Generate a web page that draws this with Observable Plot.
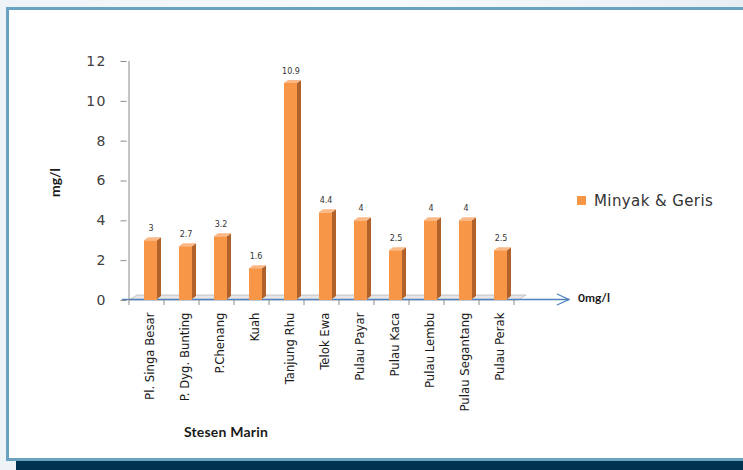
<!DOCTYPE html>
<html>
<head>
<meta charset="utf-8">
<script src="https://cdn.jsdelivr.net/npm/d3@7"></script>
<script src="https://cdn.jsdelivr.net/npm/@observablehq/plot@0.6"></script>
<style>
  html, body { margin: 0; padding: 0; }
  #wrap { position: relative; width: 743px; height: 470px; overflow: hidden;
    background: linear-gradient(90deg, #edf3f7 0%, #f7fafc 50%, #e8eff4 100%); }
  #panel { position: absolute; left: 6px; top: 7px; width: 760px; height: 454px; box-sizing: border-box;
    border: 3px solid #6aa2c2; background: #fff; }
  #band { position: absolute; left: 16px; top: 461px; width: 727px; height: 9px; background: #003350; }
  #chart { position: absolute; left: 0; top: 0; }
  .lbl { position: absolute; font-family: Lato, "Open Sans", sans-serif; font-weight: bold; color: #1a1a1a; white-space: nowrap; }
  #ylab { left: 34px; top: 174px; width: 40px; text-align: center; font-size: 14px; transform: rotate(-90deg); }
  #xlab { left: 176px; top: 423px; width: 100px; text-align: center; font-size: 14px; letter-spacing: 0.2px; }
  #zero { left: 578px; top: 290px; font-size: 12px; }
  #legend { position: absolute; left: 577px; top: 192px; font-family: "DejaVu Sans", Verdana, sans-serif; font-size: 15px; letter-spacing: 0.4px; color: #333; white-space: nowrap; }
  #legend span.sw { display: inline-block; width: 9px; height: 9px; background: #f79646; margin-right: 8px; vertical-align: 1px; }
  g[aria-label="y-axis tick label"] text { letter-spacing: 1.5px; }
</style>
</head>
<body>
<div id="wrap">
  <div id="panel"></div>
  <div id="band"></div>
  <div id="chart"></div>
  <div class="lbl" id="ylab">mg/l</div>
  <div class="lbl" id="xlab">Stesen Marin</div>
  <div class="lbl" id="zero">0mg/l</div>
  <div id="legend"><span class="sw"></span>Minyak &amp; Geris</div>
</div>
<script>
const stations = ["Pl. Singa Besar", "P. Dyg. Bunting", "P.Chenang", "Kuah", "Tanjung Rhu", "Telok Ewa",
  "Pulau Payar", "Pulau Kaca", "Pulau Lembu", "Pulau Segantang", "Pulau Perak"];
const values = [3, 2.7, 3.2, 1.6, 10.9, 4.4, 4, 2.5, 4, 4, 2.5];
const yTicks = [0, 2, 4, 6, 8, 10, 12];
const seriesName = "Minyak & Geris";

const data = stations.map((s, i) => ({station: s, value: values[i]}));

const FRONT = "#f79646", SIDE = "#b0622a", TOP = "#fab886";
const insetL = 15, insetR = 7, depth = 4, rise = 3;

function bw(x) { return x(stations[1]) - x(stations[0]); }

// 3D floor + blue base line with arrow
const floorMark = (index, scales) => {
  const x = scales.x, y = scales.y, w = bw(x);
  const x0 = x(stations[0]), x1 = x(stations[stations.length - 1]) + w, y0 = y(0);
  const g = d3.create("svg:g");
  g.append("path")
    .attr("d", `M${x0},${y0} L${x0 + 8},${y0 - 5} L${x1 + 12},${y0 - 5} L${x1 + 4},${y0} Z`)
    .attr("fill", "#e6e6e6").attr("stroke", "#b8b8b8").attr("stroke-width", 0.8);
  g.append("path")
    .attr("d", `M${x0 - 7},${y0 - 0.5} L${x1 + 55},${y0 - 0.5}`)
    .attr("stroke", "#4f81bd").attr("stroke-width", 1.5).attr("fill", "none");
  g.append("path")
    .attr("d", `M${x1 + 43},${y0 - 6} L${x1 + 55},${y0 - 0.5} L${x1 + 43},${y0 + 5}`)
    .attr("stroke", "#4f81bd").attr("stroke-width", 1.3).attr("fill", "none");
  return g.node();
};

// y axis line and x boundary ticks
const axisLines = (index, scales) => {
  const x = scales.x, y = scales.y, w = bw(x);
  const x0 = x(stations[0]);
  const g = d3.create("svg:g").attr("stroke", "#8c8c8c").attr("stroke-width", 1);
  g.append("line").attr("x1", x0).attr("x2", x0).attr("y1", y(12)).attr("y2", y(0));
  for (let k = 0; k <= stations.length; k++) {
    const xx = x0 + k * w;
    g.append("line").attr("x1", xx).attr("x2", xx).attr("y1", y(0)).attr("y2", y(0) + 5);
  }
  return g.node();
};

// side and top faces of the bars
const barFaces = (index, scales) => {
  const x = scales.x, y = scales.y, w = bw(x);
  const g = d3.create("svg:g");
  data.forEach(d => {
    const xl = x(d.station) + insetL, xr = x(d.station) + w - insetR;
    const yt = y(d.value), yb = y(0) - 1;
    g.append("path")
      .attr("d", `M${xr},${yt} L${xr + depth},${yt - rise} L${xr + depth},${yb - rise} L${xr},${yb} Z`)
      .attr("fill", SIDE);
    g.append("path")
      .attr("d", `M${xl},${yt} L${xl + depth},${yt - rise} L${xr + depth},${yt - rise} L${xr},${yt} Z`)
      .attr("fill", TOP);
  });
  return g.node();
};

const chart = Plot.plot({
  width: 743,
  height: 470,
  marginLeft: 126.5,
  marginRight: 226,
  marginTop: 61,
  marginBottom: 170,
  style: {background: "transparent", overflow: "visible"},
  x: {domain: stations, padding: 0, axis: null},
  y: {domain: [0, 12], axis: null},
  marks: [
    floorMark,
    axisLines,
    Plot.axisY(yTicks, {
      tickSize: 6, tickPadding: 14, fontSize: 14, stroke: "#8c8c8c",
      fill: "#404040", fontFamily: "DejaVu Sans, Verdana, sans-serif", label: null
    }),
    Plot.axisX({
      tickSize: 0, tickRotate: -90, tickPadding: 12, fontSize: 13, dx: 3,
      fill: "#1a1a1a", fontFamily: "Liberation Sans Narrow, DejaVu Sans Condensed, Roboto, sans-serif", label: null
    }),
    Plot.barY(data, {x: "station", y: "value", fill: FRONT, insetLeft: insetL, insetRight: insetR, y1: () => 0}),
    barFaces,
    Plot.text(data, {
      x: "station", y: "value", text: d => String(d.value), dx: 4, dy: -12,
      fontSize: 8, fill: "#333", fontFamily: "DejaVu Sans, Verdana, sans-serif",
      style: {letterSpacing: "1px"}
    })
  ]
});
document.getElementById("chart").appendChild(chart);
</script>
</body>
</html>
